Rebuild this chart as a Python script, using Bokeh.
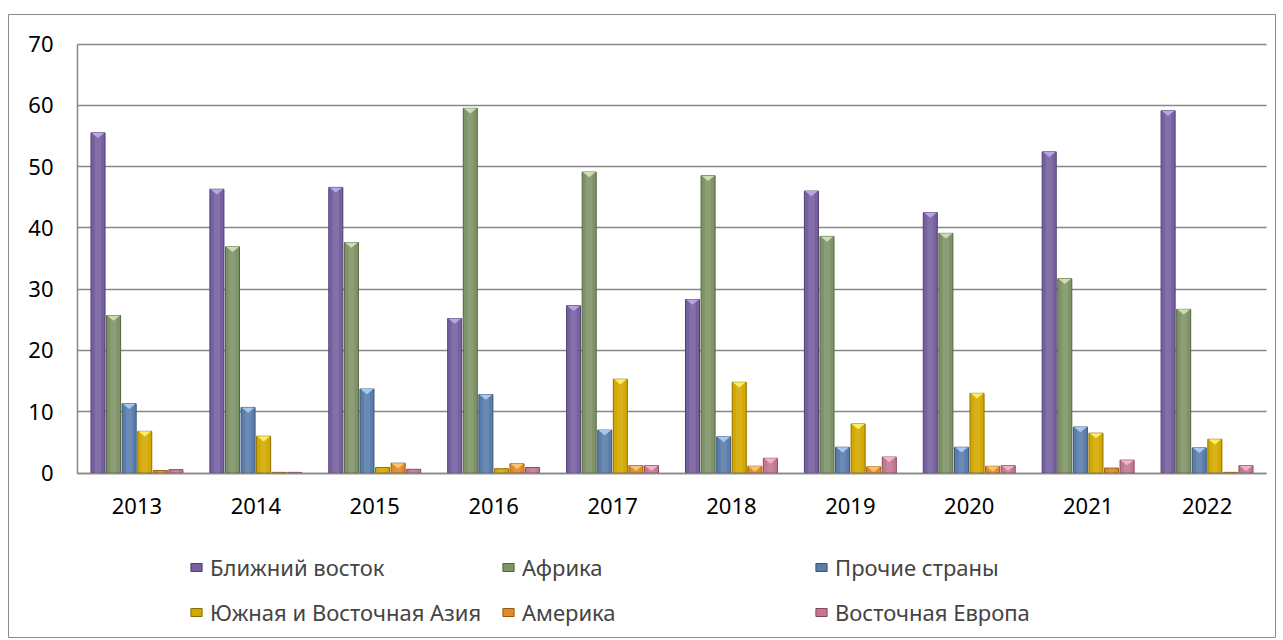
from bokeh.plotting import figure
from bokeh.models import Legend, LegendItem, FixedTicker, Range1d
from bokeh.embed import file_html
from bokeh.resources import INLINE

years = ["2013", "2014", "2015", "2016", "2017", "2018", "2019", "2020", "2021", "2022"]
series_names = ["Ближний восток", "Африка", "Прочие страны",
                "Южная и Восточная Азия", "Америка", "Восточная Европа"]
middle_east = [55.5, 46.3, 46.6, 25.2, 27.3, 28.3, 46.0, 42.5, 52.4, 59.1]
africa = [25.7, 36.9, 37.6, 59.5, 49.1, 48.5, 38.6, 39.1, 31.7, 26.7]
other = [11.3, 10.7, 13.7, 12.8, 7.0, 5.9, 4.2, 4.2, 7.5, 4.1]
asia = [6.8, 6.0, 0.9, 0.7, 15.3, 14.8, 8.0, 13.0, 6.5, 5.5]
america = [0.4, 0.1, 1.6, 1.5, 1.2, 1.1, 1.0, 1.1, 0.8, 0.1]
east_europe = [0.55, 0.1, 0.6, 0.9, 1.2, 2.4, 2.6, 1.2, 2.1, 1.2]
y_ticks = [0, 10, 20, 30, 40, 50, 60, 70]

series = [middle_east, africa, other, asia, america, east_europe]
fills = ["#7760A0", "#7E9367", "#5A7DAB", "#D3A800", "#E08A28", "#C37890"]
edges = ["#4E3D6E", "#55633F", "#3A5377", "#8D6F00", "#98590F", "#83495B"]
caps = ["#BDA6E6", "#CDE2B4", "#AACCF2", "#FFF066", "#FFC474", "#F4B4CB"]

FONT = "Noto Sans"
FSIZE = "22px"
GREY = "#878787"

# The frame is the whole chart box (its outline is the chart border);
# the plot area is positioned inside it through the ranges.
n = len(years)
px_per_x = 1189 / n
x_start = -0.5 - 69 / px_per_x
x_end = n - 0.5 + 9 / px_per_x
px_per_y = 429 / 70
y_end = 70 + 29.5 / px_per_y
y_start = -164.5 / px_per_y

p = figure(width=1276, height=638, output_backend="svg", toolbar_location=None,
           x_range=Range1d(x_start, x_end), y_range=Range1d(y_start, y_end),
           min_border_left=8, min_border_right=1, min_border_top=14,
           min_border_bottom=1)
p.outline_line_color = "#8a8a8a"
p.outline_line_width = 1
p.background_fill_color = "white"

step = 0.131
width = 0.118
renderers = []
for k, vals in enumerate(series):
    xs = [i + (k - 2.5) * step for i in range(n)]
    r = p.vbar(x=xs, top=vals, bottom=0, width=width, fill_color=fills[k],
               line_color=edges[k], line_width=1)
    renderers.append(r)
    p.vbar(x=xs, top=vals, bottom=0, width=width * 0.45, fill_color="white",
           fill_alpha=0.10, line_color=None)
    cx, cy = [], []
    for x, v in zip(xs, vals):
        if v >= 1.0:
            cx.append([x - width / 2 + 0.004, x + width / 2 - 0.004, x])
            cy.append([v, v, v - 0.85])
    if cx:
        p.patches(cx, cy, fill_color=caps[k], line_color=None, fill_alpha=0.95)

# axes placed inside the frame
p.xaxis.ticker = FixedTicker(ticks=list(range(n)))
p.xaxis.major_label_overrides = {i: y for i, y in enumerate(years)}
p.yaxis.ticker = FixedTicker(ticks=y_ticks)
p.xaxis.fixed_location = 0
p.yaxis.fixed_location = -0.5
p.xaxis.bounds = (-0.5, n - 0.5)
p.yaxis.bounds = (0, 70)
for ax in (p.xaxis, p.yaxis):
    ax.major_tick_out = 0
    ax.major_tick_in = 0
    ax.minor_tick_out = 0
    ax.minor_tick_in = 0
    ax.axis_line_color = GREY
    ax.axis_line_width = 1.5
    ax.major_label_text_font = FONT
    ax.major_label_text_font_size = FSIZE
    ax.major_label_text_color = "black"
p.xaxis.major_label_standoff = 25
p.yaxis.major_label_standoff = 24
p.xgrid.grid_line_color = None
p.ygrid.grid_line_color = GREY
p.ygrid.grid_line_width = 1.5
p.ygrid.bounds = (0, 70)
p.ygrid.cross_bounds = (-0.5, n - 0.5)

# legend: 2 rows x 3 columns at fixed positions
col_x = [181, 493, 806]
row_y = [55, 10]
for idx, name in enumerate(series_names):
    row, col = divmod(idx, 3)
    lg = Legend(items=[LegendItem(label=name, renderers=[renderers[idx]])],
                location=(col_x[col], row_y[row]),
                padding=0, margin=0, spacing=0,
                glyph_width=14, glyph_height=10, label_standoff=7,
                label_text_font=FONT, label_text_font_size=FSIZE,
                label_height=26, border_line_color=None,
                background_fill_alpha=0)
    p.add_layout(lg, "center")

open("out.html", "w").write(file_html(p, INLINE))
